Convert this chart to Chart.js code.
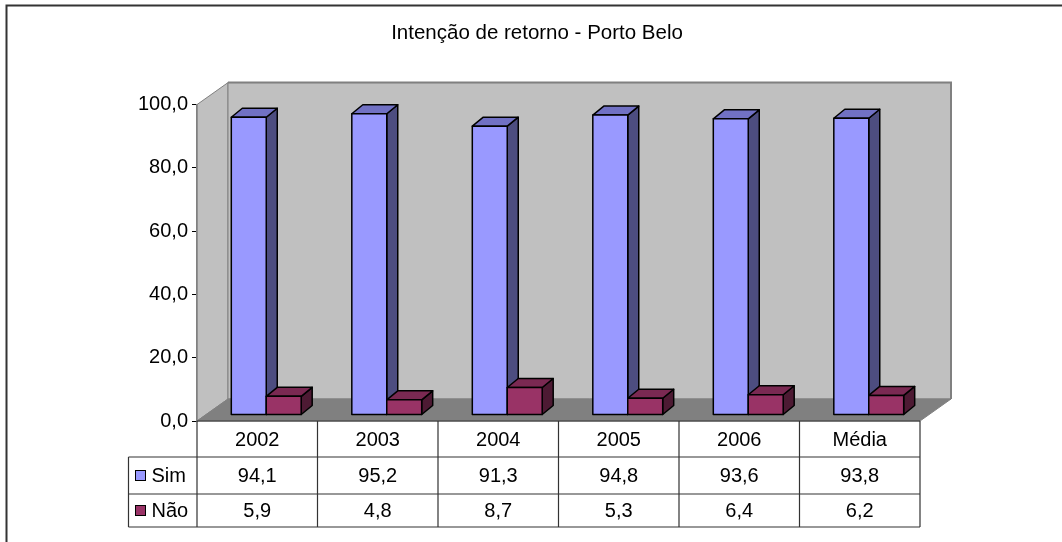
<!DOCTYPE html>
<html>
<head>
<meta charset="utf-8">
<script src="https://cdn.jsdelivr.net/npm/chart.js@4.4.0/dist/chart.umd.min.js"></script>
<style>
  html, body { margin: 0; padding: 0; background: #fff; }
  #wrap { width: 1062px; height: 542px; position: relative; }
</style>
</head>
<body>
<div id="wrap"><canvas id="retorno"></canvas></div>
<script>
const categories = ['2002', '2003', '2004', '2005', '2006', 'Média'];
const seriesNames = ['Sim', 'Não'];
const simValues = [94.1, 95.2, 91.3, 94.8, 93.6, 93.8];
const naoValues = [5.9, 4.8, 8.7, 5.3, 6.4, 6.2];
const yMin = 0, yMax = 100, yStep = 20;

const FONT = '"Liberation Sans", Arial, sans-serif';
const faceColors = [
    { front: '#9999ff', top: '#7171c4', side: '#4d4d80' },
    { front: '#993366', top: '#7a2952', side: '#4d1a33' }
];

// oblique offsets for the walls and the 3d boxes
const WALL = { dx: 31, dy: -22 };
const BAR_SHIFT = { dx: 9, dy: -6 };
const BAR_DEPTH = { dx: 11, dy: -9 };

const fmt = v => v.toFixed(1).replace('.', ',');

function poly(ctx, pts) {
    ctx.beginPath();
    ctx.moveTo(pts[0][0], pts[0][1]);
    for (let i = 1; i < pts.length; i++) ctx.lineTo(pts[i][0], pts[i][1]);
    ctx.closePath();
}

// frame, side wall, back wall and floor
const wallsPlugin = {
    id: 'walls',
    beforeDraw(chart) {
        const { ctx, chartArea: a } = chart;
        ctx.save();
        ctx.strokeStyle = '#333';
        ctx.lineWidth = 2;
        ctx.strokeRect(6.5, 5.5, chart.width + 20, chart.height + 20);

        ctx.lineWidth = 1;
        ctx.fillStyle = '#c0c0c0';
        ctx.strokeStyle = '#808080';
        poly(ctx, [[a.left, a.top], [a.left + WALL.dx, a.top + WALL.dy],
                   [a.left + WALL.dx, a.bottom + WALL.dy], [a.left, a.bottom]]);
        ctx.fill(); ctx.stroke();

        poly(ctx, [[a.left + WALL.dx, a.top + WALL.dy], [a.right + WALL.dx, a.top + WALL.dy],
                   [a.right + WALL.dx, a.bottom + WALL.dy], [a.left + WALL.dx, a.bottom + WALL.dy]]);
        ctx.fill(); ctx.stroke();

        ctx.lineWidth = 2;
        ctx.beginPath();
        ctx.moveTo(a.left + WALL.dx, a.top + WALL.dy);
        ctx.lineTo(a.right + WALL.dx, a.top + WALL.dy);
        ctx.lineTo(a.right + WALL.dx, a.bottom + WALL.dy);
        ctx.stroke();

        ctx.lineWidth = 1;
        ctx.fillStyle = '#808080';
        poly(ctx, [[a.left, a.bottom], [a.right, a.bottom],
                   [a.right + WALL.dx, a.bottom + WALL.dy], [a.left + WALL.dx, a.bottom + WALL.dy]]);
        ctx.fill(); ctx.stroke();
        ctx.restore();
    }
};

// draws each bar element as a box with front, top and side faces
const boxesPlugin = {
    id: 'boxes',
    afterDatasetsDraw(chart) {
        const ctx = chart.ctx;
        ctx.save();
        ctx.strokeStyle = '#000';
        ctx.lineWidth = 1.5;
        ctx.lineJoin = 'round';
        chart.data.datasets.forEach((ds, di) => {
            const c = faceColors[di];
            chart.getDatasetMeta(di).data.forEach(bar => {
                const p = bar.getProps(['x', 'y', 'base', 'width'], true);
                const x0 = p.x - p.width / 2 + BAR_SHIFT.dx;
                const x1 = p.x + p.width / 2 + BAR_SHIFT.dx;
                const yt = p.y + BAR_SHIFT.dy;
                const yb = p.base + BAR_SHIFT.dy;
                const dx = BAR_DEPTH.dx, dy = BAR_DEPTH.dy;

                ctx.fillStyle = c.side;
                poly(ctx, [[x1, yb], [x1 + dx, yb + dy], [x1 + dx, yt + dy], [x1, yt]]);
                ctx.fill(); ctx.stroke();

                ctx.fillStyle = c.top;
                poly(ctx, [[x0, yt], [x0 + dx, yt + dy], [x1 + dx, yt + dy], [x1, yt]]);
                ctx.fill(); ctx.stroke();

                ctx.fillStyle = c.front;
                poly(ctx, [[x0, yt], [x1, yt], [x1, yb], [x0, yb]]);
                ctx.fill(); ctx.stroke();
            });
        });
        ctx.restore();
    }
};

// data table under the floor, with legend keys in the first column
const tablePlugin = {
    id: 'dataTable',
    afterDraw(chart) {
        const { ctx, chartArea: a } = chart;
        const xs = chart.scales.x;
        const half = (xs.getPixelForValue(1) - xs.getPixelForValue(0)) / 2;
        const rows = [a.bottom, a.bottom + 36, a.bottom + 73, a.bottom + 106];
        const keyLeft = 128.5;

        ctx.save();
        ctx.strokeStyle = '#333';
        ctx.lineWidth = 1.2;
        ctx.beginPath();
        ctx.moveTo(a.left, rows[0]); ctx.lineTo(a.right, rows[0]);
        for (let r = 1; r < rows.length; r++) {
            ctx.moveTo(keyLeft, rows[r]); ctx.lineTo(a.right, rows[r]);
        }
        ctx.moveTo(keyLeft, rows[1]); ctx.lineTo(keyLeft, rows[3]);
        for (let k = 0; k <= categories.length; k++) {
            const x = xs.getPixelForValue(0) - half + k * 2 * half;
            ctx.moveTo(x, rows[0]); ctx.lineTo(x, rows[3]);
        }
        ctx.stroke();

        ctx.fillStyle = '#000';
        ctx.font = '20px ' + FONT;
        ctx.textAlign = 'center';
        ctx.textBaseline = 'middle';
        categories.forEach((cat, i) => {
            ctx.fillText(cat, xs.getPixelForValue(i), (rows[0] + rows[1]) / 2 + 1);
        });
        chart.data.datasets.forEach((ds, di) => {
            const mid = (rows[di + 1] + rows[di + 2]) / 2 + 1;
            ds.data.forEach((v, i) => ctx.fillText(fmt(v), xs.getPixelForValue(i), mid));

            ctx.fillStyle = faceColors[di].front;
            ctx.fillRect(keyLeft + 7, mid - 6, 10, 10);
            ctx.strokeStyle = '#000';
            ctx.lineWidth = 1;
            ctx.strokeRect(keyLeft + 7, mid - 6, 10, 10);
            ctx.fillStyle = '#000';
            ctx.textAlign = 'left';
            ctx.fillText(ds.label, keyLeft + 23, mid);
            ctx.textAlign = 'center';
        });
        ctx.restore();
    }
};

Chart.defaults.font.family = FONT;
Chart.defaults.color = '#000';

new Chart(document.getElementById('retorno'), {
    type: 'bar',
    data: {
        labels: categories,
        datasets: [
            { label: seriesNames[0], data: simValues },
            { label: seriesNames[1], data: naoValues }
        ].map(d => Object.assign(d, {
            backgroundColor: 'rgba(0,0,0,0)',
            borderWidth: 0,
            categoryPercentage: 0.58,
            barPercentage: 1
        }))
    },
    options: {
        responsive: true,
        maintainAspectRatio: false,
        animation: false,
        layout: { padding: { left: 12, right: 0, top: 0, bottom: 121 } },
        scales: {
            x: { display: false },
            y: {
                min: yMin,
                max: yMax,
                ticks: { stepSize: yStep, padding: 4, font: { size: 20 }, callback: v => fmt(v) },
                grid: { drawOnChartArea: false, drawTicks: true, tickLength: 5, color: '#000' },
                border: { display: true, color: '#808080', width: 1.5 },
                afterFit(s) { s.width = 185; }
            },
            y2: {
                position: 'right',
                ticks: { display: false },
                grid: { display: false },
                border: { display: false },
                afterFit(s) { s.width = 142; }
            }
        },
        plugins: {
            legend: { display: false },
            tooltip: { enabled: false },
            title: {
                display: true,
                text: 'Intenção de retorno - Porto Belo',
                color: '#000',
                font: { size: 20.5, weight: 'normal' },
                padding: { top: 21, bottom: 59 }
            }
        }
    },
    plugins: [wallsPlugin, boxesPlugin, tablePlugin]
});
</script>
</body>
</html>
